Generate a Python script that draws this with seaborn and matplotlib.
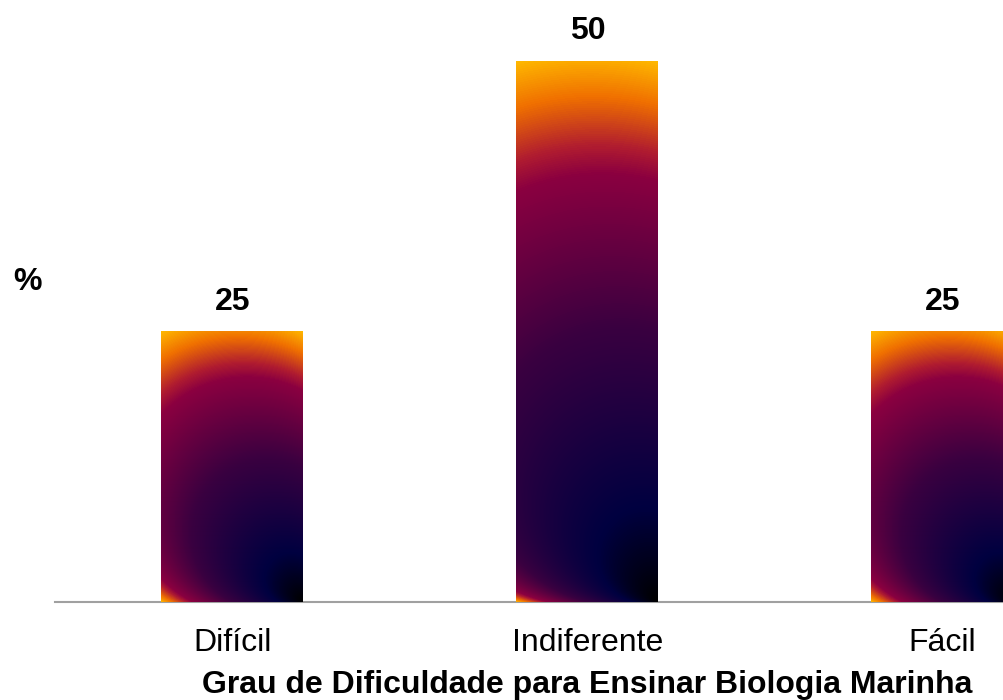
import numpy as np
import matplotlib
matplotlib.use("Agg")
import matplotlib.pyplot as plt
from matplotlib.colors import LinearSegmentedColormap
import seaborn as sns

categories = ["Difícil", "Indiferente", "Fácil"]
values = [25, 50, 25]
value_labels = ["25", "50", "25"]
xlabel = "Grau de Dificuldade para Ensinar Biologia Marinha"
ylabel = "%"

sns.set_theme(style="white")
plt.rcParams["font.family"] = ["Liberation Sans", "DejaVu Sans"]

W, H = 1004, 700
fig = plt.figure(figsize=(W / 100, H / 100), dpi=100)
px_per_unit = 541 / 50.0
ymax = 55
left_px, right_px, bottom_px = 55, 1120, 602
ax = fig.add_axes([left_px / W, (H - bottom_px) / H,
                   (right_px - left_px) / W, ymax * px_per_unit / H])

sns.barplot(x=categories, y=values, width=0.4, color="#3a0040",
            saturation=1, ax=ax)
ax.set_xlim(-0.5, 2.5)
ax.set_ylim(0, ymax)

grad = LinearSegmentedColormap.from_list("pathgrad", [
    (0.00, "#000000"),
    (0.17, "#000040"),
    (0.50, "#3a0040"),
    (0.78, "#8b0040"),
    (0.83, "#b01c30"),
    (0.92, "#f07000"),
    (1.00, "#ffb800"),
])

fig.canvas.draw()
for p in list(ax.patches):
    x0, y0 = p.get_x(), p.get_y()
    x1, y1 = x0 + p.get_width(), y0 + p.get_height()
    (px0, py0), (px1, py1) = ax.transData.transform([(x0, y0), (x1, y1)])
    w, h = px1 - px0, py1 - py0
    nx, ny = max(int(round(w)), 2), max(int(round(h)), 2)
    xs = (np.arange(nx) + 0.5) / nx * w
    ys = (np.arange(ny) + 0.5) / ny * h
    X, Y = np.meshgrid(xs, ys)
    u = w - X  # distance from right edge
    v = Y      # distance from bottom
    cx, cy = w / 2, h / 2
    t = (u ** 2 + v ** 2) / (2 * (u * cx + v * cy) + 1e-9)
    t = np.clip(t, 0, 1)
    ax.imshow(grad(t), extent=(x0, x1, y0, y1), origin="lower",
              aspect="auto", interpolation="bilinear", zorder=3)
    p.set_visible(False)
ax.set_xlim(-0.5, 2.5)
ax.set_ylim(0, ymax)

fs = 23
for i, (val, lab) in enumerate(zip(values, value_labels)):
    ax.annotate(lab, (i, val), xytext=(0, 21.5), textcoords="offset points",
                ha="center", va="center", fontsize=fs, fontweight="bold",
                color="black", annotation_clip=False)

for s in ["top", "right", "left"]:
    ax.spines[s].set_visible(False)
ax.spines["bottom"].set_color("#a0a0a0")
ax.spines["bottom"].set_linewidth(1.5)
ax.set_yticks([])
ax.tick_params(axis="x", length=0, pad=19, labelsize=fs, labelcolor="black")
ax.set_xlabel(xlabel, fontsize=fs, fontweight="bold", labelpad=8.5, color="black")
ax.set_ylabel("")
fig.text(28 / W, 1 - 282 / H, ylabel, ha="center", va="center",
         fontsize=fs, fontweight="bold", color="black")

fig.savefig("out.png", dpi=100, facecolor="white")
